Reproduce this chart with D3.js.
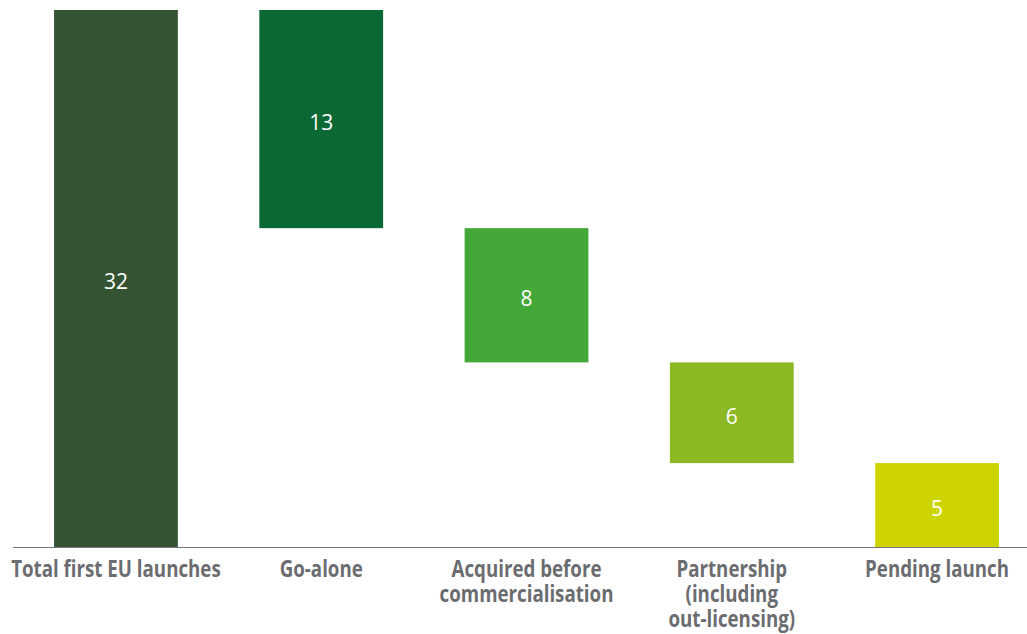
<!DOCTYPE html>
<html>
<head>
<meta charset="utf-8">
<script src="https://cdn.jsdelivr.net/npm/d3@7"></script>
<style>
  body { margin: 0; background: #fff; }
  svg { display: block; }
</style>
</head>
<body>
<svg id="chart" width="1027" height="634"></svg>
<script>
// waterfall data
const categories = ['Total first EU launches', 'Go-alone', 'Acquired before commercialisation', 'Partnership (including out-licensing)', 'Pending launch'];
const labelLines = [['Total first EU launches'], ['Go-alone'], ['Acquired before', 'commercialisation'], ['Partnership', '(including', 'out-licensing)'], ['Pending launch']];
const values = [32, 13, 8, 6, 5];
const colors = ['#345333', '#0a6834', '#43a838', '#8cb824', '#cdd400'];

const svg = d3.select('#chart');
const baseY = 547;

// compute bar start/end (waterfall: first is total, then steps down)
let running = 0;
const bars = categories.map((c, i) => {
  let lo, hi;
  if (i === 0) { lo = 0; hi = values[0]; running = values[0]; }
  else { hi = running; lo = running - values[i]; running = lo; }
  return { cat: c, value: values[i], lo: lo, hi: hi, color: colors[i], lines: labelLines[i] };
});

const x = d3.scaleBand()
  .domain(categories)
  .range([13, 1040])
  .paddingInner(0.397)
  .paddingOuter(0.2);

const y = d3.scaleLinear()
  .domain([0, 32])
  .range([baseY, 10]);

svg.selectAll('rect.bar')
  .data(bars)
  .enter().append('rect')
  .attr('class', 'bar')
  .attr('x', d => x(d.cat))
  .attr('y', d => y(d.hi))
  .attr('width', x.bandwidth())
  .attr('height', d => y(d.lo) - y(d.hi))
  .attr('fill', d => d.color);

// value labels
svg.selectAll('text.val')
  .data(bars)
  .enter().append('text')
  .attr('class', 'val')
  .attr('x', d => x(d.cat) + x.bandwidth() / 2)
  .attr('y', d => (y(d.lo) + y(d.hi)) / 2)
  .attr('dy', '0.52em')
  .attr('text-anchor', 'middle')
  .attr('fill', '#fff')
  .style('font-family', '"Open Sans", sans-serif')
  .style('font-size', '21px')
  .text(d => d.value);

// baseline
svg.append('line')
  .attr('x1', 13).attr('x2', 1027)
  .attr('y1', baseY + 0.5).attr('y2', baseY + 0.5)
  .attr('stroke', '#767676')
  .attr('stroke-width', 1.2);

// category labels (condensed look: squeeze Open Sans bold horizontally)
const squeeze = 0.78;
const lab = svg.selectAll('text.cat')
  .data(bars)
  .enter().append('text')
  .attr('class', 'cat')
  .attr('text-anchor', 'middle')
  .attr('fill', '#6b6c70')
  .attr('transform', d => {
    const cx = x(d.cat) + x.bandwidth() / 2;
    return `translate(${cx},0) scale(${squeeze},1)`;
  })
  .style('font-family', '"Open Sans", sans-serif')
  .style('font-weight', 'bold')
  .style('font-size', '24px');

lab.each(function(d) {
  const t = d3.select(this);
  d.lines.forEach((ln, j) => {
    t.append('tspan')
      .attr('x', 0)
      .attr('y', 577 + j * 25)
      .text(ln);
  });
});
</script>
</body>
</html>
